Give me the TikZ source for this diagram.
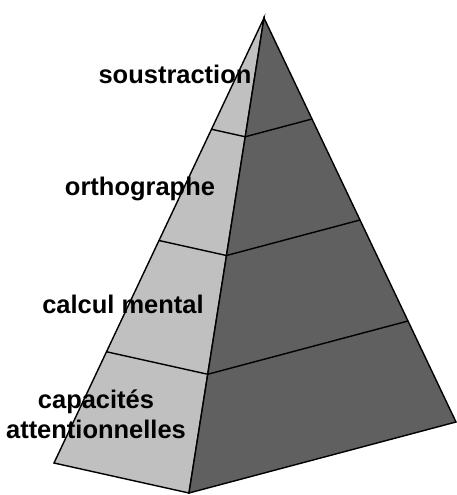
\documentclass[tikz,border=0pt]{standalone}
\usepackage{fontspec}
\setmainfont{Liberation Sans}
\usetikzlibrary{calc}
\definecolor{faceclaire}{RGB}{192,192,192}
\definecolor{facesombre}{RGB}{96,96,96}
\tikzset{etage/.style={font=\bfseries\fontsize{14.5}{17}\selectfont,inner sep=0pt,align=center}}
\begin{document}
\begin{tikzpicture}[x=0.02cm,y=-0.02cm]
        \useasboundingbox (0,0) rectangle (457,495);
        \coordinate (sommet) at (264,18);
        \coordinate (gauche) at (54,463);
        \coordinate (avant) at (189,493);
        \coordinate (droite) at (456,422);
        \draw[line width=0.8pt,fill=faceclaire] (sommet) -- (gauche) -- (avant) -- cycle;
        \draw[line width=0.8pt,fill=facesombre] (sommet) -- (avant) -- (droite) -- cycle;
        \foreach \t in {0.25,0.5,0.75}
            \draw[line width=0.8pt] ($(sommet)!\t!(gauche)$) -- ($(sommet)!\t!(avant)$) -- ($(sommet)!\t!(droite)$);
        \node[etage] at (175,74) (soustraction) {soustraction};
        \node[etage] at (140,189) (orthographe) {orthographe};
        \node[etage] at (123,304) (calcul) {calcul mental};
        \node[etage] at (96,414) (capacites) {capacités\\attentionnelles};
    \end{tikzpicture}
\end{document}
